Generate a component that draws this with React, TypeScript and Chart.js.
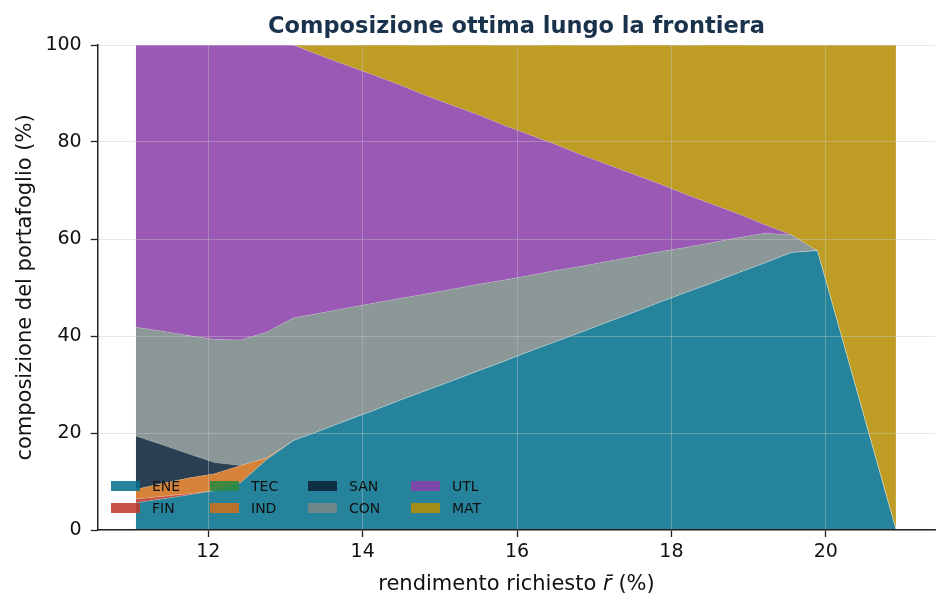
import React, { useEffect, useRef } from 'react';
import { Chart, registerables, ChartConfiguration, Plugin } from 'chart.js';

Chart.register(...registerables);

// required return r̄ (%) along the efficient frontier
const returns = [11.06, 11.40, 11.74, 12.08, 12.42, 12.76, 13.10, 13.44, 13.78, 14.12, 14.46, 14.80, 15.14, 15.48, 15.82, 16.16, 16.50, 16.84, 17.18, 17.52, 17.86, 18.20, 18.54, 18.88, 19.22, 19.56, 19.89, 20.23, 20.57, 20.91];

const sectors = ['ENE', 'FIN', 'TEC', 'IND', 'SAN', 'CON', 'UTL', 'MAT'];

// portfolio weights (%) per sector
const ene = [5.6, 6.4, 7.2, 8.1, 9.8, 14.6, 18.4, 20.4, 22.5, 24.5, 26.6, 28.6, 30.6, 32.7, 34.7, 36.8, 38.8, 40.8, 42.9, 44.9, 47.0, 49.0, 51.0, 53.1, 55.1, 57.2, 57.6, 38.4, 19.2, 0];
const fin = [0.8, 0.5, 0.25, 0, 0, 0, 0, 0, 0, 0, 0, 0, 0, 0, 0, 0, 0, 0, 0, 0, 0, 0, 0, 0, 0, 0, 0, 0, 0, 0];
const tec = [0, 0, 0, 0, 0, 0, 0, 0, 0, 0, 0, 0, 0, 0, 0, 0, 0, 0, 0, 0, 0, 0, 0, 0, 0, 0, 0, 0, 0, 0];
const ind = [2.0, 2.7, 3.25, 3.5, 3.5, 0.3, 0, 0, 0, 0, 0, 0, 0, 0, 0, 0, 0, 0, 0, 0, 0, 0, 0, 0, 0, 0, 0, 0, 0, 0];
const san = [11.0, 8.0, 5.0, 2.3, 0, 0, 0, 0, 0, 0, 0, 0, 0, 0, 0, 0, 0, 0, 0, 0, 0, 0, 0, 0, 0, 0, 0, 0, 0, 0];
const con = [22.4, 23.4, 24.4, 25.4, 25.9, 25.9, 25.3, 24.3, 23.2, 22.2, 21.1, 20.0, 19.0, 17.9, 16.8, 15.7, 14.7, 13.6, 12.5, 11.5, 10.4, 9.3, 8.3, 7.2, 6.1, 3.6, 0, 0, 0, 0];
const utl = [58.2, 59.0, 59.9, 60.7, 60.8, 59.2, 56.3, 53.2, 50.2, 47.2, 44.2, 41.1, 38.1, 35.1, 32.0, 29.0, 26.0, 22.9, 19.9, 16.9, 13.9, 10.8, 7.8, 4.8, 1.7, 0, 0, 0, 0, 0];
const mat = [0, 0, 0, 0, 0, 0, 0, 2.1, 4.1, 6.2, 8.2, 10.3, 12.4, 14.4, 16.5, 18.5, 20.6, 22.7, 24.7, 26.8, 28.8, 30.9, 33.0, 35.0, 37.1, 39.2, 42.4, 61.6, 80.8, 100];

const weights = [ene, fin, tec, ind, san, con, utl, mat];

const xTicks = [12, 14, 16, 18, 20];
const yTicks = [0, 20, 40, 60, 80, 100];

const colors = ['#05718c', '#c0392b', '#27893f', '#d06f1c', '#0c2338', '#7b8889', '#8a40aa', '#b58f05'];
const ALPHA = 0.87;

const FONT = '"DejaVu Sans", sans-serif';
const GRID = 'rgba(200,200,200,0.4)';

function rgba(hex: string, a: number) {
    const n = parseInt(hex.slice(1), 16);
    return `rgba(${(n >> 16) & 255},${(n >> 8) & 255},${n & 255},${a})`;
}

const overlay: Plugin<'line'> = {
    id: 'overlay',
    afterDraw(chart) {
        const { ctx, chartArea: a } = chart;
        const cx = (a.left + a.right) / 2;
        ctx.save();

        // title
        ctx.fillStyle = '#1a334d';
        ctx.font = `bold 22.5px ${FONT}`;
        ctx.textAlign = 'center';
        ctx.textBaseline = 'alphabetic';
        ctx.fillText('Composizione ottima lungo la frontiera', cx, 33);

        // y label
        ctx.fillStyle = '#111';
        ctx.font = `21px ${FONT}`;
        ctx.save();
        ctx.translate(31, (a.top + a.bottom) / 2);
        ctx.rotate(-Math.PI / 2);
        ctx.textBaseline = 'alphabetic';
        ctx.fillText('composizione del portafoglio (%)', 0, 0);
        ctx.restore();

        // x label with italic r̄
        const p1 = 'rendimento richiesto ';
        const p2 = 'r\u0304';
        const p3 = ' (%)';
        ctx.font = `21px ${FONT}`;
        const w1 = ctx.measureText(p1).width;
        const w3 = ctx.measureText(p3).width;
        ctx.font = `italic 21px ${FONT}`;
        const w2 = ctx.measureText('r').width;
        const total = w1 + w2 + w3;
        let x = cx - total / 2;
        ctx.textAlign = 'left';
        ctx.font = `21px ${FONT}`;
        ctx.fillText(p1, x, 590);
        x += w1;
        ctx.font = `italic 21px ${FONT}`;
        ctx.fillText(p2, x, 590);
        x += w2;
        ctx.font = `21px ${FONT}`;
        ctx.fillText(p3, x, 590);

        // legend, 4 columns x 2 rows, column-major
        const colX = [111, 210, 308, 411];
        const rowY = [486, 508];
        ctx.font = `14px ${FONT}`;
        ctx.textBaseline = 'middle';
        sectors.forEach((s, i) => {
            const lx = colX[Math.floor(i / 2)];
            const ly = rowY[i % 2];
            ctx.fillStyle = rgba(colors[i], ALPHA);
            ctx.fillRect(lx, ly - 5, 29, 10);
            ctx.fillStyle = '#111';
            ctx.fillText(s, lx + 41, ly + 1);
        });

        ctx.restore();
    },
};

const App: React.FC = () => {
    const canvasRef = useRef<HTMLCanvasElement>(null);

    useEffect(() => {
        document.body.style.margin = '0';
        if (!canvasRef.current) return;

        const config: ChartConfiguration<'line'> = {
            type: 'line',
            data: {
                datasets: sectors.map((s, i) => ({
                    label: s,
                    data: returns.map((r, k) => ({ x: r, y: weights[i][k] })),
                    backgroundColor: rgba(colors[i], ALPHA),
                    borderColor: 'rgba(255,255,255,0.3)',
                    borderWidth: 0.5,
                    pointRadius: 0,
                    tension: 0,
                    fill: i === 0 ? 'origin' : '-1',
                })),
            },
            options: {
                responsive: false,
                animation: false,
                layout: { padding: { top: 45, right: 13.7, left: 0, bottom: 0 } },
                plugins: {
                    legend: { display: false },
                    title: { display: false },
                    tooltip: { enabled: false },
                },
                scales: {
                    x: {
                        type: 'linear',
                        min: 10.566,
                        max: 21.42,
                        afterBuildTicks: (scale) => {
                            scale.ticks = xTicks.map((v) => ({ value: v }));
                        },
                        afterFit: (scale) => {
                            scale.height = 81;
                        },
                        grid: {
                            z: 1,
                            color: GRID,
                            lineWidth: 1,
                            tickColor: '#222',
                            tickLength: 7,
                            tickWidth: 1.3,
                        },
                        border: { display: true, color: '#222', width: 1.5, z: 2 },
                        ticks: {
                            color: '#111',
                            font: { family: FONT, size: 19 },
                            padding: 4,
                            maxRotation: 0,
                            callback: (v) => String(v),
                        },
                    },
                    y: {
                        type: 'linear',
                        stacked: true,
                        min: 0,
                        max: 100,
                        afterBuildTicks: (scale) => {
                            scale.ticks = yTicks.map((v) => ({ value: v }));
                        },
                        afterFit: (scale) => {
                            scale.width = 97.7;
                        },
                        grid: {
                            z: 1,
                            color: GRID,
                            lineWidth: 1,
                            tickColor: '#222',
                            tickLength: 7,
                            tickWidth: 1.3,
                        },
                        border: { display: true, color: '#222', width: 1.5, z: 2 },
                        ticks: {
                            color: '#111',
                            font: { family: FONT, size: 19 },
                            padding: 9,
                            callback: (v) => String(v),
                        },
                    },
                },
            },
            plugins: [overlay],
        };

        const chart = new Chart(canvasRef.current, config);
        return () => {
            chart.destroy();
        };
    }, []);

    return (
        <div style={{ width: 949, height: 611, background: '#fff' }}>
            <canvas ref={canvasRef} width={949} height={611} role="img" aria-label="Composizione ottima lungo la frontiera: stacked area chart of sector weights vs required return." />
        </div>
    );
};

export default App;
